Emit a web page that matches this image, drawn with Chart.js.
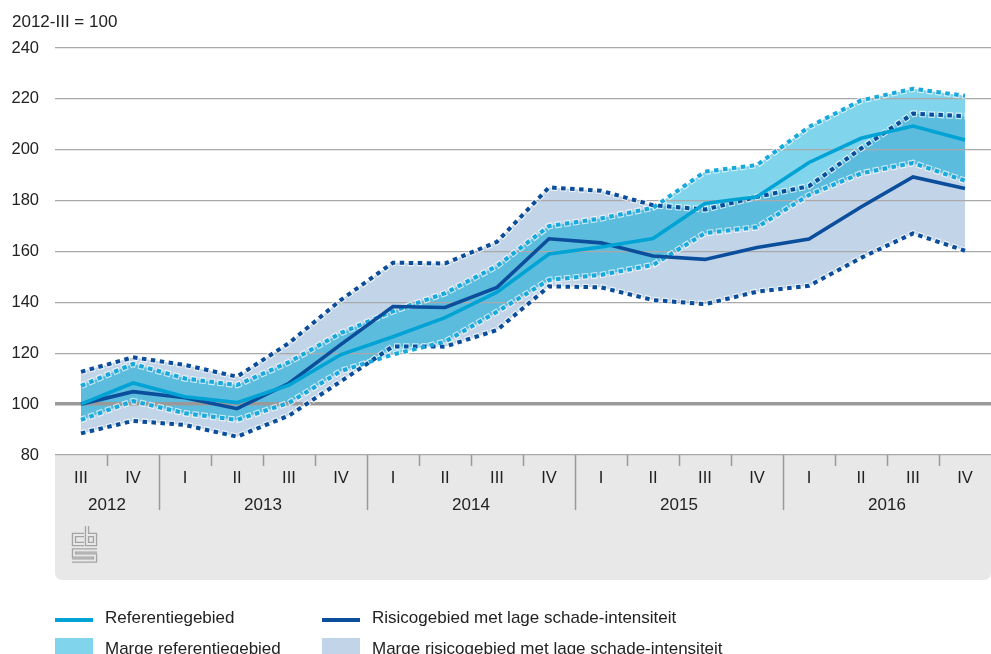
<!DOCTYPE html>
<html>
<head>
<meta charset="utf-8">
<script src="https://cdn.jsdelivr.net/npm/chart.js@4.4.1/dist/chart.umd.min.js"></script>
<style>
  html, body { margin: 0; padding: 0; background: #fff; }
  #wrap { position: relative; width: 991px; height: 654px; overflow: hidden; font-family: 'Liberation Sans', Arial, sans-serif; color: #222; }
  canvas { position: absolute; left: 0; top: 0; }
  .t { position: absolute; font-size: 17px; line-height: 17px; white-space: nowrap; color: #222; }
  .sw { position: absolute; }
</style>
</head>
<body>
<div id="wrap">
  <canvas id="c" width="991" height="654"></canvas>
  <div class="t" style="left:12px;top:12.6px;">2012-III = 100</div>
  <div class="sw" style="left:55px;top:617.7px;width:38px;height:4.6px;background:#00a3d3;"></div>
  <div class="t" style="left:105px;top:609px;">Referentiegebied</div>
  <div class="sw" style="left:322px;top:617.7px;width:38px;height:4.6px;background:#0b4e9c;"></div>
  <div class="t" style="left:372px;top:609px;">Risicogebied met lage schade-intensiteit</div>
  <div class="sw" style="left:55px;top:638px;width:38px;height:18px;background:#80d4eb;"></div>
  <div class="t" style="left:105px;top:639.6px;">Marge referentiegebied</div>
  <div class="sw" style="left:322px;top:638px;width:38px;height:18px;background:#c2d4e8;"></div>
  <div class="t" style="left:372px;top:639.6px;">Marge risicogebied met lage schade-intensiteit</div>
</div>
<script>
// ---- data ----
const quarters = ['III','IV','I','II','III','IV','I','II','III','IV','I','II','III','IV','I','II','III','IV'];
const years = ['2012','2013','2014','2015','2016'];
const yTicks = [80, 100, 120, 140, 160, 180, 200, 220, 240];

const referentie      = [100, 108.3, 102.9, 100.6, 107.5, 119.5, 126.5, 134.0, 144.0, 159.0, 161.8, 165.1, 178.9, 181.5, 195.0, 204.5, 209.3, 203.8];
const referentieBoven = [107.2, 115.8, 110.1, 107.5, 116.5, 128.0, 136.5, 143.6, 154.3, 170.0, 173.0, 177.2, 191.4, 194.0, 209.0, 219.4, 224.0, 221.2];
const referentieOnder = [93.8, 101.2, 96.4, 93.8, 100.5, 113.0, 119.5, 124.5, 136.3, 148.8, 150.8, 154.7, 167.2, 169.5, 182.2, 190.7, 194.8, 187.8];

const risico      = [100, 104.9, 102.5, 98.2, 108.2, 123.5, 138.4, 138.0, 145.9, 165.0, 163.4, 158.2, 156.9, 161.6, 164.9, 177.5, 189.3, 184.8];
const risicoBoven = [112.7, 118.4, 115.4, 110.8, 124.0, 141.0, 155.6, 155.3, 163.8, 185.2, 183.9, 178.2, 176.5, 181.5, 185.7, 200.5, 214.2, 213.2];
const risicoOnder = [88.5, 93.4, 91.8, 87.2, 95.5, 109.0, 122.7, 122.6, 129.1, 146.3, 145.9, 140.9, 139.3, 144.2, 146.5, 157.5, 167.1, 160.3];

// ---- styles ----
const FONT = "'Liberation Sans', Arial, sans-serif";
const C_REF = '#00a3d3';
const C_REF_DOT = '#17a8dc';
const C_RISK = '#0b4e9c';
const C_RISK_DOT = '#0a4d9b';
const F_REF = '#80d4eb';
const F_RISK = '#c2d4e8';
const F_BOTH = '#5cbcde';
const HALO = 'rgba(255,255,255,0.65)';
const GRAY_BG = '#e8e8e8';

function dotted(data, color, order, fill, bg) {
  return { data, borderColor: color, borderWidth: 4, borderDash: [4.5, 4.5], borderCapStyle: 'butt',
    pointRadius: 0, tension: 0, order, fill: fill, backgroundColor: bg || 'transparent' };
}
function halo(data, order) {
  return { data, borderColor: HALO, borderWidth: 6.5, borderDash: [6.5, 2.5], borderDashOffset: 1,
    pointRadius: 0, tension: 0, order, fill: false };
}

// indices used by the overlap plugin
const I_RISK_UP = 2, I_RISK_LO = 3, I_REF_UP = 4, I_REF_LO = 5;
const datasets = [
  { data: referentie, borderColor: C_REF, borderWidth: 3.6, pointRadius: 0, tension: 0, order: -1, fill: false }, // 0
  { data: risico, borderColor: C_RISK, borderWidth: 3.6, pointRadius: 0, tension: 0, order: 0, fill: false },     // 1
  dotted(risicoBoven, C_RISK_DOT, 2, false),                       // 2
  dotted(risicoOnder, C_RISK_DOT, 2, '-1', F_RISK),                // 3
  dotted(referentieBoven, C_REF_DOT, 1, false),                    // 4
  dotted(referentieOnder, C_REF_DOT, 1, '-1', F_REF),              // 5
  halo(risicoBoven, 4), halo(risicoOnder, 4), halo(referentieBoven, 3), halo(referentieOnder, 3)
];

const backgroundPlugin = {
  id: 'bgband',
  beforeDraw(chart) {
    const { ctx, chartArea: a } = chart;
    ctx.save();
    ctx.fillStyle = GRAY_BG;
    ctx.beginPath();
    ctx.roundRect(a.left, a.bottom, a.right - a.left, 580 - a.bottom, [0, 0, 7, 7]);
    ctx.fill();
    ctx.restore();
    // overlap of the two margins
    const pts = i => chart.getDatasetMeta(i).data.map(p => [p.x, p.y]);
    const poly = (up, lo) => {
      ctx.moveTo(up[0][0], up[0][1]);
      up.forEach(p => ctx.lineTo(p[0], p[1]));
      for (let k = lo.length - 1; k >= 0; k--) ctx.lineTo(lo[k][0], lo[k][1]);
      ctx.closePath();
    };
    ctx.save();
    ctx.beginPath();
    poly(pts(I_RISK_UP), pts(I_RISK_LO));
    ctx.clip();
    ctx.beginPath();
    poly(pts(I_REF_UP), pts(I_REF_LO));
    ctx.fillStyle = F_BOTH;
    ctx.fill();
    ctx.restore();
  },
  afterDraw(chart) {
    const { ctx, chartArea: a } = chart;
    const xs = chart.scales.x;
    ctx.save();
    // separators
    ctx.strokeStyle = '#9a9a9a';
    ctx.lineWidth = 1.5;
    for (let i = 1; i < quarters.length; i++) {
      const x = Math.round((xs.getPixelForValue(i - 1) + xs.getPixelForValue(i)) / 2) + 0.5;
      const len = quarters[i] === 'I' ? 55 : 11;
      ctx.beginPath();
      ctx.moveTo(x, a.bottom);
      ctx.lineTo(x, a.bottom + len);
      ctx.stroke();
    }
    // labels
    ctx.fillStyle = '#222';
    ctx.font = '16.5px ' + FONT;
    ctx.textAlign = 'center';
    ctx.textBaseline = 'middle';
    quarters.forEach((q, i) => ctx.fillText(q, xs.getPixelForValue(i), a.bottom + 23));
    // years: groups start at 'I'
    let start = 0, g = 0;
    for (let i = 1; i <= quarters.length; i++) {
      if (i === quarters.length || quarters[i] === 'I') {
        const x0 = (xs.getPixelForValue(start) + xs.getPixelForValue(i - 1)) / 2;
        ctx.font = '17px ' + FONT;
        ctx.fillText(years[g], x0, a.bottom + 50);
        start = i; g++;
      }
    }
    // logo
    const shapes = [
      [[84, 535], [74, 535], [74, 544], [84, 544]],
      [[87, 526], [87, 544], [95, 544], [95, 535], [87, 535]],
      [[97, 550.5], [74, 550.5], [74, 555.5], [95, 555.5], [95, 560.5], [72, 560.5]]
    ];
    ctx.lineJoin = 'miter';
    shapes.forEach(s => {
      ctx.beginPath();
      s.forEach((p, k) => k ? ctx.lineTo(p[0], p[1]) : ctx.moveTo(p[0], p[1]));
      ctx.strokeStyle = '#a3a3a3'; ctx.lineWidth = 4.4; ctx.stroke();
      ctx.strokeStyle = GRAY_BG; ctx.lineWidth = 1.8; ctx.stroke();
    });
    ctx.restore();
  }
};

new Chart(document.getElementById('c'), {
  type: 'line',
  data: { labels: quarters, datasets },
  options: {
    responsive: false,
    animation: false,
    devicePixelRatio: 1,
    layout: { padding: { top: 48, bottom: 199, left: 0, right: 0 } },
    plugins: { legend: { display: false }, tooltip: { enabled: false }, filler: { drawTime: 'beforeDraw' } },
    events: [],
    scales: {
      x: { display: false, offset: true },
      y: {
        min: 80, max: 240,
        afterBuildTicks(s) { s.ticks = yTicks.map(v => ({ value: v })); },
        afterFit(s) { s.width = 55; },
        border: { display: false },
        grid: {
          drawTicks: false,
          color: c => c.tick.value === 100 ? '#999999' : '#a9a9a9',
          lineWidth: c => c.tick.value === 100 ? 3.5 : 1.3
        },
        ticks: { padding: 16, color: '#222', font: { family: FONT, size: 16.5 } }
      }
    }
  },
  plugins: [backgroundPlugin]
});
</script>
</body>
</html>
